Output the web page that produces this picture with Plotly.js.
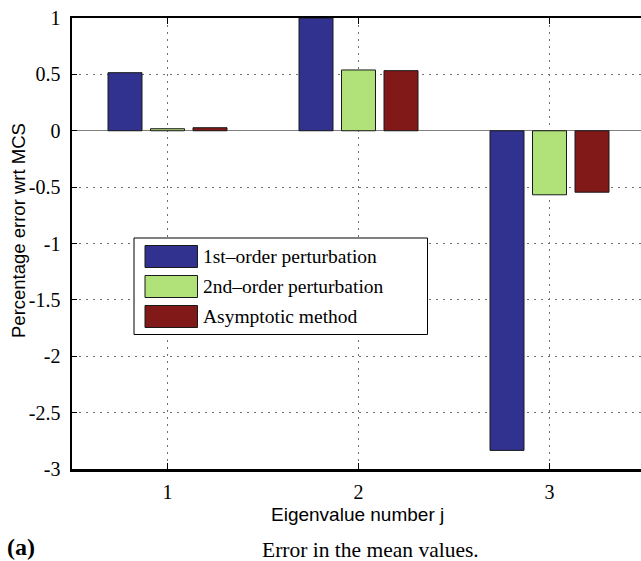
<!DOCTYPE html>
<html>
<head>
<meta charset="utf-8">
<script src="https://cdn.plot.ly/plotly-3.0.1.min.js"></script>
<style>
  html, body { margin: 0; padding: 0; background: #fff; }
  #chart { width: 641px; height: 561px; }
</style>
</head>
<body>
<div id="chart"></div>
<script>
// Eigenvalue index on the x axis
const eigenIndex = [1, 2, 3];

// Percentage error of each method relative to Monte Carlo simulation
const firstOrder = [0.515, 1.0, -2.835];
const secondOrder = [0.018, 0.539, -0.568];
const asymptotic = [0.027, 0.533, -0.545];

const seriesNames = ['1st\u2013order perturbation', '2nd\u2013order perturbation', 'Asymptotic method'];
const seriesColors = ['#31318F', '#B0E279', '#801917'];
const seriesValues = [firstOrder, secondOrder, asymptotic];

const yTickValues = [1, 0.5, 0, -0.5, -1, -1.5, -2, -2.5, -3];
const yTickLabels = ['1', '0.5', '0', '-0.5', '-1', '-1.5', '-2', '-2.5', '-3'];
const xTickLabels = ['1', '2', '3'];

const W = 641, H = 561;
const M = { l: 72, r: 0, t: 18, b: 92 };
const plotW = W - M.l - M.r;
const plotH = H - M.t - M.b;

// pixel position -> paper fraction
const px = x => (x - M.l) / plotW;
const py = y => (H - M.b - y) / plotH;

const serif = 'Liberation Serif, Times New Roman, serif';
const sans = 'Liberation Sans, Arial, sans-serif';

const traces = seriesValues.map((vals, i) => ({
  type: 'bar',
  x: eigenIndex,
  y: vals,
  name: seriesNames[i],
  marker: { color: seriesColors[i], line: { color: '#1a1a1a', width: 1 } },
  hoverinfo: 'x+y'
}));

// Legend drawn as a boxed panel with swatches
const shapes = [{
  type: 'rect', xref: 'paper', yref: 'paper',
  x0: px(134), x1: px(427.5), y0: py(238), y1: py(334.5),
  fillcolor: '#fff', line: { color: '#000', width: 1 }, layer: 'above'
}];
const annotations = [];
const rowCenters = [256.5, 286.5, 316.5];
seriesNames.forEach((name, i) => {
  shapes.push({
    type: 'rect', xref: 'paper', yref: 'paper',
    x0: px(145), x1: px(197.5), y0: py(rowCenters[i] - 11), y1: py(rowCenters[i] + 11),
    fillcolor: seriesColors[i], line: { color: '#1a1a1a', width: 1 }, layer: 'above'
  });
  annotations.push({
    xref: 'paper', yref: 'paper', x: px(201), y: py(rowCenters[i]),
    xanchor: 'left', yanchor: 'middle', showarrow: false,
    text: name, font: { family: serif, size: 19.5, color: '#000' }
  });
});

// Axis titles and caption
annotations.push({
  xref: 'paper', yref: 'paper', x: px(18), y: py(231),
  xanchor: 'center', yanchor: 'middle', textangle: -90, showarrow: false,
  text: 'Percentage error wrt MCS', font: { family: sans, size: 18.5, color: '#000' }
});
annotations.push({
  xref: 'paper', yref: 'paper', x: px(357.5), y: py(514),
  xanchor: 'center', yanchor: 'middle', showarrow: false,
  text: 'Eigenvalue number j', font: { family: sans, size: 19, color: '#000' }
});
annotations.push({
  xref: 'paper', yref: 'paper', x: px(5), y: py(547),
  xanchor: 'left', yanchor: 'middle', showarrow: false,
  text: '<b>(a)</b>', font: { family: serif, size: 24, color: '#000' }
});
annotations.push({
  xref: 'paper', yref: 'paper', x: px(370), y: py(550),
  xanchor: 'center', yanchor: 'middle', showarrow: false,
  text: 'Error in the mean values.', font: { family: serif, size: 21.5, color: '#000' }
});

const layout = {
  width: W, height: H,
  margin: M,
  paper_bgcolor: '#fff', plot_bgcolor: '#fff',
  showlegend: false,
  barmode: 'group',
  bargap: 0.3325,
  bargroupgap: 0.2,
  xaxis: {
    range: [0.5, 0.5 + plotW / 191],
    tickmode: 'array', tickvals: eigenIndex, ticktext: xTickLabels,
    ticks: 'inside', ticklen: 6, tickwidth: 1.5, tickcolor: '#000',
    showline: true, linecolor: '#000', linewidth: 2.5, mirror: 'ticks',
    showgrid: true, gridcolor: '#707070', gridwidth: 1, griddash: '2px,5px',
    zeroline: false,
    tickfont: { family: serif, size: 20, color: '#000' },
    ticklabelstandoff: 3
  },
  yaxis: {
    range: [-3, 1],
    tickmode: 'array', tickvals: yTickValues, ticktext: yTickLabels,
    ticks: 'inside', ticklen: 5, tickwidth: 1, tickcolor: '#000',
    showline: true, linecolor: '#000', linewidth: 2.5, mirror: false,
    showgrid: true, gridcolor: '#707070', gridwidth: 1, griddash: '2px,5px',
    zeroline: true, zerolinecolor: '#808080', zerolinewidth: 1,
    tickfont: { family: serif, size: 20, color: '#000' },
    ticklabelstandoff: 5
  },
  shapes: shapes,
  annotations: annotations
};

Plotly.newPlot('chart', traces, layout, { displayModeBar: false, staticPlot: true });
</script>
</body>
</html>
